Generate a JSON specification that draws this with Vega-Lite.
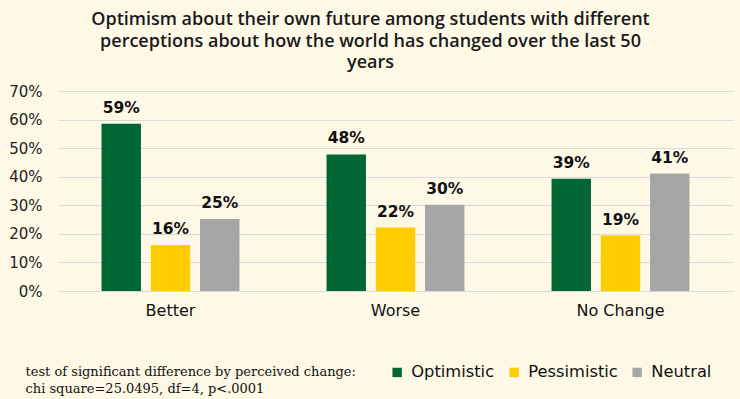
{
  "$schema": "https://vega.github.io/schema/vega-lite/v6.json",
  "width": 675,
  "height": 200,
  "autosize": {"type": "none"},
  "padding": {"left": 58, "top": 91, "right": 7, "bottom": 108},
  "background": "#FEF9E7",
  "title": {
    "text": ["Optimism about their own future among students with different", "perceptions about how the world has changed over the last 50", "years"],
    "anchor": "middle",
    "dx": -25,
    "font": "Open Sans",
    "fontSize": 18,
    "fontWeight": 600,
    "color": "#1a1a1a",
    "lineHeight": 21.5,
    "offset": 12
  },
  "data": {
    "values": [
      {"change": "Better", "group": "Optimistic", "value": 0.585, "label": "59%"},
      {"change": "Better", "group": "Pessimistic", "value": 0.161, "label": "16%"},
      {"change": "Better", "group": "Neutral", "value": 0.252, "label": "25%"},
      {"change": "Worse", "group": "Optimistic", "value": 0.478, "label": "48%"},
      {"change": "Worse", "group": "Pessimistic", "value": 0.222, "label": "22%"},
      {"change": "Worse", "group": "Neutral", "value": 0.302, "label": "30%"},
      {"change": "No Change", "group": "Optimistic", "value": 0.393, "label": "39%"},
      {"change": "No Change", "group": "Pessimistic", "value": 0.194, "label": "19%"},
      {"change": "No Change", "group": "Neutral", "value": 0.411, "label": "41%"}
    ]
  },
  "encoding": {
    "x": {
      "field": "change",
      "type": "nominal",
      "sort": ["Better", "Worse", "No Change"],
      "scale": {"paddingInner": 0.387, "paddingOuter": 0.1935},
      "axis": {
        "title": ["test of significant difference by perceived change:", "chi square=25.0495, df=4, p<.0001"],
        "titleFont": "DejaVu Serif",
        "titleFontSize": 13,
        "titleFontWeight": "normal",
        "titleColor": "#111111",
        "titleAnchor": "start",
        "titleAlign": "left",
        "titleBaseline": "alphabetic",
        "titleX": -33,
        "titleY": 84,
        "titleLineHeight": 17,
        "labelAngle": 0,
        "labelFont": "DejaVu Sans",
        "labelFontSize": 16,
        "labelColor": "#111111",
        "labelPadding": 11,
        "ticks": false,
        "domain": false
      }
    },
    "xOffset": {
      "field": "group",
      "type": "nominal",
      "sort": ["Optimistic", "Pessimistic", "Neutral"],
      "scale": {"paddingInner": 0.2, "paddingOuter": 0}
    },
    "y": {
      "field": "value",
      "type": "quantitative",
      "scale": {"domain": [0, 0.7]},
      "axis": {
        "title": null,
        "format": ".0%",
        "values": [0, 0.1, 0.2, 0.3, 0.4, 0.5, 0.6, 0.7],
        "gridColor": "#D9D9D9",
        "gridWidth": 1,
        "domain": false,
        "ticks": false,
        "tickSize": 0,
        "labelPadding": 16,
        "labelFont": "DejaVu Sans",
        "labelFontSize": 15,
        "labelColor": "#222222"
      }
    }
  },
  "layer": [
    {
      "mark": {"type": "bar"},
      "encoding": {
        "color": {
          "field": "group",
          "type": "nominal",
          "scale": {"domain": ["Optimistic", "Pessimistic", "Neutral"], "range": ["#006633", "#FFCC00", "#A6A6A6"]},
          "legend": {
            "orient": "none",
            "direction": "horizontal",
            "legendX": 331,
            "legendY": 273,
            "title": null,
            "symbolType": "square",
            "symbolSize": 88,
            "symbolStrokeWidth": 0,
            "labelFont": "DejaVu Sans",
            "labelFontSize": 16.3,
            "labelColor": "#111111",
            "labelOffset": 6,
            "columnPadding": 11
          }
        }
      }
    },
    {
      "mark": {"type": "text", "baseline": "bottom", "dy": -8, "font": "DejaVu Sans", "fontSize": 15.5, "fontWeight": "bold", "color": "#111111"},
      "encoding": {
        "text": {"field": "label", "type": "nominal"}
      }
    }
  ],
  "config": {"view": {"stroke": null}}
}
